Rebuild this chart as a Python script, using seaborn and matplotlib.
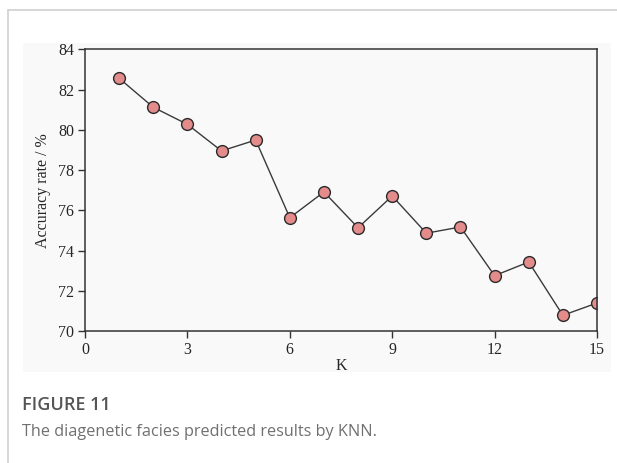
import matplotlib
matplotlib.use("Agg")
import matplotlib.pyplot as plt
import seaborn as sns
import pandas as pd
from matplotlib.patches import Rectangle
from matplotlib.lines import Line2D

# Data
k_values = [1, 2, 3, 4, 5, 6, 7, 8, 9, 10, 11, 12, 13, 14, 15]
accuracy = [82.56, 81.12, 80.27, 78.95, 79.49, 75.63, 76.91, 75.13,
            76.71, 74.86, 75.17, 72.75, 73.43, 70.78, 71.39]
x_ticks = [0, 3, 6, 9, 12, 15]
y_ticks = [70, 72, 74, 76, 78, 80, 82, 84]
x_label = "K"
y_label = "Accuracy rate / %"
fig_title = "FIGURE 11"
fig_caption = "The diagenetic facies predicted results by KNN."

df = pd.DataFrame({"K": k_values, "acc": accuracy})

sns.set_style("white")
plt.rcParams["font.family"] = ["Liberation Serif", "DejaVu Serif"]

fig = plt.figure(figsize=(6.17, 4.63), dpi=100)
fig.patch.set_facecolor("white")

W, H = 617, 463
# chart panel background
fig.add_artist(Rectangle((23 / W, 1 - 372 / H), (611 - 23) / W, (372 - 43) / H,
                         transform=fig.transFigure, facecolor="#f9f9f9",
                         edgecolor="none", zorder=0))
# page border lines
fig.add_artist(Line2D([8 / W, 1], [1 - 9.5 / H, 1 - 9.5 / H], transform=fig.transFigure,
                      color="#d0d0d0", lw=1.2))
fig.add_artist(Line2D([8 / W, 8 / W], [0, 1 - 9.5 / H], transform=fig.transFigure,
                      color="#d0d0d0", lw=1.2))

ax = fig.add_axes([85 / W, 1 - 331 / H, (597 - 85) / W, (331 - 49.3) / H])
ax.set_facecolor("#f9f9f9")

sns.lineplot(data=df, x="K", y="acc", ax=ax, color="#3a3a3a", linewidth=1.0,
             marker="o", markersize=8.5, markerfacecolor="#e48b8b",
             markeredgecolor="#2a2a2a", markeredgewidth=1.0)

ax.set_xlim(0, 15)
ax.set_ylim(70, 84)
ax.set_xticks(x_ticks)
ax.set_yticks(y_ticks)
ax.tick_params(axis="both", direction="out", length=5, width=1, color="#333333",
               labelsize=11.5, pad=3, bottom=True, left=True)
for s in ax.spines.values():
    s.set_color("#333333")
    s.set_linewidth(1.1)
    s.set_visible(True)
ax.set_xlabel(x_label, fontsize=11.5, labelpad=0)
ax.set_ylabel(y_label, fontsize=11.5, labelpad=5)

fig.text(22 / W, 1 - 405 / H, fig_title, fontsize=13, color="#555555",
         family=["Open Sans", "DejaVu Sans"], fontweight="semibold", va="center")
fig.text(22 / W, 1 - 432 / H, fig_caption, fontsize=11.7, color="#707070",
         family=["Open Sans", "DejaVu Sans"], va="center")

fig.savefig("out.png", dpi=100)
